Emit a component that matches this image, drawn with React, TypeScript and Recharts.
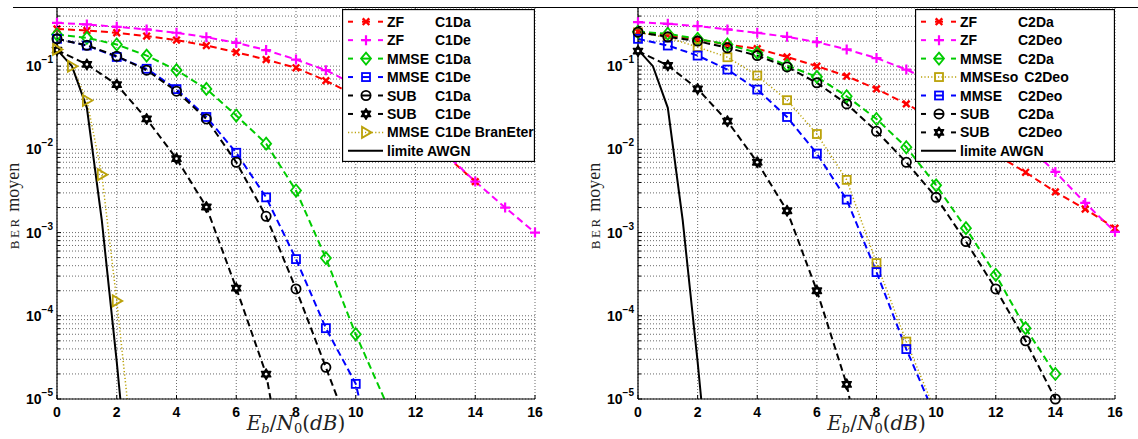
import React from "react";
import { LineChart, Line, XAxis, YAxis, CartesianGrid } from "recharts";

// Eb/N0 (dB)
const snr = [0, 1, 2, 3, 4, 5, 6, 7, 8, 9, 10, 11, 12, 13, 14, 15, 16];
const snrHalf = [0, 0.5, 1, 1.5, 2];
const xTicks = [0, 2, 4, 6, 8, 10, 12, 14, 16];
const decades = [1e-5, 1e-4, 1e-3, 1e-2, 1e-1];
const minorSteps = [2, 3, 4, 5, 6, 7, 8, 9];
const berMin = 1e-5;
const berMax = 0.5;

// BER moyen - left figure (C1)
const zfC1Da = [0.28, 0.268, 0.252, 0.23, 0.206, 0.177, 0.147, 0.12, 0.0955, 0.067, 0.044, 0.026, 0.015, 0.0085, 0.0041];
const zfC1De = [0.332, 0.317, 0.297, 0.276, 0.252, 0.223, 0.191, 0.156, 0.12, 0.0895, 0.059, 0.0355, 0.018, 0.0089, 0.0041, 0.002, 0.001];
const mmseC1Da = [0.24, 0.219, 0.182, 0.134, 0.0895, 0.0533, 0.0255, 0.0117, 0.0032, 0.000494, 6.0e-5];
const mmseC1De = [0.213, 0.177, 0.129, 0.093, 0.053, 0.0245, 0.0091, 0.00265, 0.00048, 7.1e-5, 1.52e-5];
const subC1Da = [0.213, 0.178, 0.132, 0.0895, 0.05, 0.0232, 0.007, 0.00157, 0.00021, 2.4e-5];
const subC1De = [0.156, 0.105, 0.06, 0.0232, 0.00774, 0.00203, 0.000215, 1.99e-5];
const mmseC1DeBranEter = [0.159, 0.1, 0.0386, 0.00497, 0.000151];
const awgnLimit = [0.158, 0.1, 0.0316, 0.0014, 2.8e-5];

// BER moyen - right figure (C2)
const zfC2Da = [0.259, 0.235, 0.21, 0.182, 0.162, 0.129, 0.1, 0.0758, 0.0533, 0.0352, 0.0224, 0.014, 0.0087, 0.0053, 0.00308, 0.00192, 0.00113];
const zfC2Deo = [0.338, 0.323, 0.303, 0.276, 0.252, 0.225, 0.195, 0.159, 0.125, 0.091, 0.062, 0.038, 0.021, 0.0115, 0.00536, 0.00227, 0.00102];
const mmseC2Da = [0.259, 0.245, 0.213, 0.182, 0.145, 0.102, 0.0744, 0.0435, 0.0232, 0.0106, 0.0037, 0.00113, 0.000311, 7.1e-5, 2.0e-5];
const mmsesoC2Deo = [0.255, 0.22, 0.17, 0.128, 0.0772, 0.039, 0.0153, 0.0043, 0.00043, 4.9e-5];
const mmseC2Deo = [0.213, 0.177, 0.134, 0.091, 0.0523, 0.0245, 0.0089, 0.00249, 0.000335, 3.98e-5];
const subC2Da = [0.256, 0.225, 0.2, 0.166, 0.134, 0.098, 0.063, 0.0352, 0.0165, 0.007, 0.00265, 0.00078, 0.00021, 5.0e-5, 1.0e-5];
const subC2Deo = [0.152, 0.102, 0.0533, 0.0218, 0.007, 0.00183, 0.0002, 1.5e-5];

// Eb/N0 where a curve runs out through the bottom (1e-5) of the plot
const mmseC1DaExit = 10.96;
const mmseC1DeExit = 10.12;
const subC1DaExit = 9.4;
const subC1DeExit = 7.15;
const branEterExit = 2.35;
const awgnExit = 2.12;
const mmsesoC2DeoExit = 9.8;
const mmseC2DeoExit = 9.72;
const subC2DeoExit = 7.1;

const yTicks = decades.flatMap((d) => [d, ...minorSteps.map((m) => m * d)]).filter((v) => v < berMax);

type Pt = { x: number; y: number; exit?: boolean };
type Mark = "x" | "plus" | "diamond" | "square" | "circle" | "hexagram" | "triangle" | "none";
type Series = { label: string; cfg: string; color: string; style: "dash" | "dot" | "solid"; mark: Mark; points: Pt[] };

const pts = (xs: number[], ys: number[], exitX?: number): Pt[] => {
  const out: Pt[] = ys.map((y, i) => ({ x: xs[i], y }));
  if (exitX !== undefined) out.push({ x: exitX, y: berMin, exit: true });
  return out;
};

const RED = "#ff0000";
const MAGENTA = "#ff00ff";
const GREEN = "#00cc00";
const BLUE = "#0000ff";
const BLACK = "#000000";
const OLIVE = "#bba20a";

const seriesC1: Series[] = [
  { label: "ZF", cfg: "C1Da", color: RED, style: "dash", mark: "x", points: pts(snr, zfC1Da) },
  { label: "ZF", cfg: "C1De", color: MAGENTA, style: "dash", mark: "plus", points: pts(snr, zfC1De) },
  { label: "MMSE", cfg: "C1Da", color: GREEN, style: "dash", mark: "diamond", points: pts(snr, mmseC1Da, mmseC1DaExit) },
  { label: "MMSE", cfg: "C1De", color: BLUE, style: "dash", mark: "square", points: pts(snr, mmseC1De, mmseC1DeExit) },
  { label: "SUB", cfg: "C1Da", color: BLACK, style: "dash", mark: "circle", points: pts(snr, subC1Da, subC1DaExit) },
  { label: "SUB", cfg: "C1De", color: BLACK, style: "dash", mark: "hexagram", points: pts(snr, subC1De, subC1DeExit) },
  { label: "MMSE", cfg: "C1De BranEter", color: OLIVE, style: "dot", mark: "triangle", points: pts(snrHalf, mmseC1DeBranEter, branEterExit) },
  { label: "limite AWGN", cfg: "", color: BLACK, style: "solid", mark: "none", points: pts(snrHalf, awgnLimit, awgnExit) },
];

const seriesC2: Series[] = [
  { label: "ZF", cfg: "C2Da", color: RED, style: "dash", mark: "x", points: pts(snr, zfC2Da) },
  { label: "ZF", cfg: "C2Deo", color: MAGENTA, style: "dash", mark: "plus", points: pts(snr, zfC2Deo) },
  { label: "MMSE", cfg: "C2Da", color: GREEN, style: "dash", mark: "diamond", points: pts(snr, mmseC2Da) },
  { label: "MMSEso", cfg: "C2Deo", color: OLIVE, style: "dot", mark: "square", points: pts(snr, mmsesoC2Deo, mmsesoC2DeoExit) },
  { label: "MMSE", cfg: "C2Deo", color: BLUE, style: "dash", mark: "square", points: pts(snr, mmseC2Deo, mmseC2DeoExit) },
  { label: "SUB", cfg: "C2Da", color: BLACK, style: "dash", mark: "circle", points: pts(snr, subC2Da) },
  { label: "SUB", cfg: "C2Deo", color: BLACK, style: "dash", mark: "hexagram", points: pts(snr, subC2Deo, subC2DeoExit) },
  { label: "limite AWGN", cfg: "", color: BLACK, style: "solid", mark: "none", points: pts(snrHalf, awgnLimit, awgnExit) },
];

const dashFor = (s: Series) => (s.style === "dash" ? "7 4" : s.style === "dot" ? "1.2 2.2" : undefined);

function Glyph({ kind, cx, cy, color }: { kind: Mark; cx: number; cy: number; color: string }) {
  const common = { fill: "none", stroke: color, strokeWidth: 1.8 };
  switch (kind) {
    case "x":
      return <path d={`M${cx - 3.3},${cy - 3.3}L${cx + 3.3},${cy + 3.3}M${cx - 3.3},${cy + 3.3}L${cx + 3.3},${cy - 3.3}`} {...common} strokeWidth={2.4} />;
    case "plus":
      return <path d={`M${cx - 5},${cy}L${cx + 5},${cy}M${cx},${cy - 5}L${cx},${cy + 5}`} {...common} strokeWidth={2.2} />;
    case "diamond":
      return <polygon points={`${cx},${cy - 6} ${cx + 5},${cy} ${cx},${cy + 6} ${cx - 5},${cy}`} {...common} />;
    case "square":
      return <rect x={cx - 4} y={cy - 4} width={8} height={8} {...common} />;
    case "circle":
      return <circle cx={cx} cy={cy} r={4.6} {...common} />;
    case "hexagram": {
      const r = 5.4;
      const tri = (a0: number) =>
        [0, 1, 2].map((k) => {
          const a = a0 + (k * 2 * Math.PI) / 3;
          return `${cx + r * Math.cos(a)},${cy + r * Math.sin(a)}`;
        }).join(" ");
      return (
        <g stroke={color} strokeWidth={1.4} fill={color} strokeLinejoin="round">
          <polygon points={tri(-Math.PI / 2)} />
          <polygon points={tri(Math.PI / 2)} />
          <circle cx={cx} cy={cy} r={1.3} fill="#fff" stroke="none" />
        </g>
      );
    }
    case "triangle":
      return <polygon points={`${cx - 4},${cy - 5.5} ${cx + 5.5},${cy} ${cx - 4},${cy + 5.5}`} {...common} />;
    default:
      return null;
  }
}

const makeDot = (s: Series) => (p: any) => {
  const { cx, cy, payload, index } = p;
  if (payload?.exit || cx == null || cy == null) return <g key={`m${index}`} />;
  return (
    <g key={`m${index}`}>
      <Glyph kind={s.mark} cx={cx} cy={cy} color={s.color} />
    </g>
  );
};

const tickFont = { fontFamily: "'Liberation Sans', Arial, sans-serif", fontWeight: 700, fontSize: 14, fill: "#000" };

const XTickBottom = (p: any) => (
  <g>
    <line x1={p.x} x2={p.x} y1={p.y} y2={p.y - 4} stroke="#000" />
    <text x={p.x} y={p.y + 18} textAnchor="middle" {...tickFont}>
      {p.payload.value}
    </text>
  </g>
);

const XTickTop = (p: any) => <line x1={p.x} x2={p.x} y1={p.y} y2={p.y + 4} stroke="#000" />;

const isDecade = (v: number) => decades.includes(v);

const YTickLeft = (p: any) => {
  const v = p.payload.value;
  const major = isDecade(v);
  const exp = Math.round(Math.log10(v));
  return (
    <g>
      <line x1={p.x} x2={p.x + (major ? 4 : 3)} y1={p.y} y2={p.y} stroke="#000" />
      {major && (
        <text x={p.x - 4} y={p.y + 5} textAnchor="end" {...tickFont}>
          10
          <tspan dy={-8} fontSize={10}>
            {`\u2212${-exp}`}
          </tspan>
        </text>
      )}
    </g>
  );
};

const YTickRight = (p: any) => {
  const major = isDecade(p.payload.value);
  return <line x1={p.x} x2={p.x - (major ? 4 : 3)} y1={p.y} y2={p.y} stroke="#000" />;
};

function LegendBox({ series, width, col2 }: { series: Series[]; width: number; col2: number }) {
  const h = 153;
  return (
    <svg width={width} height={h} style={{ position: "absolute", right: 0, top: 9 }}>
      <rect x={0.5} y={0.5} width={width - 1} height={h - 1} fill="#fff" stroke="#000" strokeWidth={1.3} />
      {series.map((s, i) => {
        const cy = 12.7 + i * 18.45;
        return (
          <g key={i}>
            {s.style === "solid" && <line x1={6} x2={41} y1={cy} y2={cy} stroke={s.color} strokeWidth={2} />}
            {s.style === "dash" && (
              <g stroke={s.color} strokeWidth={2}>
                <line x1={6} x2={11} y1={cy} y2={cy} />
                <line x1={20} x2={28} y1={cy} y2={cy} />
                <line x1={36} x2={41} y1={cy} y2={cy} />
              </g>
            )}
            {s.style === "dot" && (
              <line x1={6} x2={42} y1={cy} y2={cy} stroke={s.color} strokeWidth={1.5} strokeDasharray="1.2 2.2" />
            )}
            <Glyph kind={s.mark} cx={24} cy={cy} color={s.color} />
            <text y={cy + 5} {...tickFont} fontSize={14}>
              <tspan x={45}>{s.label}</tspan>
              {s.cfg && (s.label.length > 4 ? <tspan dx={6}>{s.cfg}</tspan> : <tspan x={col2}>{s.cfg}</tspan>)}
            </text>
          </g>
        );
      })}
    </svg>
  );
}

const W = 569;
const H = 439;

function Panel({ series, left, ml, mr, legendWidth, col2 }: { series: Series[]; left: number; ml: number; mr: number; legendWidth: number; col2: number }) {
  const plotLeft = ml + 45;
  const plotRight = W - mr;
  const cx = (plotLeft + plotRight) / 2;
  const ylx = plotLeft - 43;
  return (
    <div style={{ position: "absolute", left, top: 0, width: W, height: H }}>
      <LineChart width={W} height={H} margin={{ top: 8, right: mr, bottom: 0, left: ml }}>
        <CartesianGrid stroke="#444" strokeDasharray="1 2" strokeWidth={0.8} />
        <XAxis dataKey="x" type="number" domain={[0, 16]} ticks={xTicks} interval={0} height={40} tickLine={false} tickSize={0} tickMargin={0} tick={XTickBottom} axisLine={{ stroke: "#000", strokeWidth: 1.2 }} />
        <XAxis xAxisId="top" orientation="top" dataKey="x" type="number" domain={[0, 16]} ticks={xTicks} interval={0} height={0} tickLine={false} tickSize={0} tickMargin={0} tick={XTickTop} axisLine={{ stroke: "#000", strokeWidth: 1.2 }} />
        <YAxis type="number" scale="log" domain={[berMin, berMax]} ticks={yTicks} interval={0} width={45} tickLine={false} tickSize={0} tickMargin={0} tick={YTickLeft} axisLine={{ stroke: "#000", strokeWidth: 1.2 }} />
        <YAxis yAxisId="r" orientation="right" type="number" scale="log" domain={[berMin, berMax]} ticks={yTicks} interval={0} width={0} tickLine={false} tickSize={0} tickMargin={0} tick={YTickRight} axisLine={{ stroke: "#000", strokeWidth: 1.2 }} />
        {series.map((s, i) => (
          <Line
            key={i}
            data={s.points}
            dataKey="y"
            type="linear"
            stroke={s.color}
            strokeWidth={s.style === "dot" ? 1.5 : 2}
            strokeDasharray={dashFor(s)}
            dot={s.mark === "none" ? false : makeDot(s)}
            activeDot={false}
            isAnimationActive={false}
          />
        ))}
      </LineChart>
      <svg width={W} height={H} style={{ position: "absolute", left: 0, top: 0, pointerEvents: "none" }}>
        <text x={cx} y={430} textAnchor="middle" fontFamily="'DejaVu Serif', serif" fontSize={20} fill="#222">
          <tspan fontStyle="italic">E</tspan>
          <tspan fontStyle="italic" fontSize={13} dy={3}>b</tspan>
          <tspan dy={-3}>/</tspan>
          <tspan fontStyle="italic">N</tspan>
          <tspan fontSize={13} dy={3}>0</tspan>
          <tspan dy={-3}>(</tspan>
          <tspan fontStyle="italic">dB</tspan>
          <tspan>)</tspan>
        </text>
        <text x={ylx + 5} y={206} textAnchor="middle" transform={`rotate(-90 ${ylx + 5} 206)`} fontFamily="'Liberation Serif', serif" fill="#222">
          <tspan fontSize={13} letterSpacing={2.5}>BER</tspan>
          <tspan fontSize={18}> moyen</tspan>
        </text>
      </svg>
      <div style={{ position: "absolute", left: 0, top: 0, width: plotRight, height: H }}>
        <LegendBox series={series} width={legendWidth} col2={col2} />
      </div>
    </div>
  );
}

export default function App() {
  return (
    <div style={{ position: "absolute", left: 0, top: 0, width: 1138, height: 439, background: "#fff" }}>
      <div style={{ position: "absolute", left: 13, top: 7, width: 1125, height: 1, background: "#000" }} />
      <Panel series={seriesC1} left={0} ml={12} mr={34} legendWidth={193} col2={93} />
      <Panel series={seriesC2} left={569} ml={24} mr={23} legendWidth={200} col2={103} />
    </div>
  );
}
